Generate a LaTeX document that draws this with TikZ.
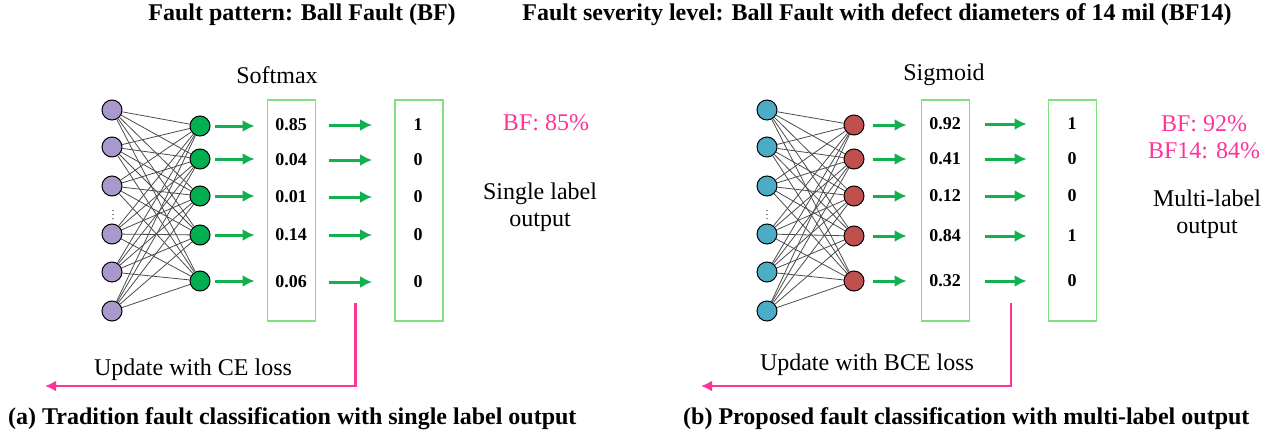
\documentclass[tikz,border=0pt]{standalone}
\usepackage{fontspec}
\setmainfont{Liberation Serif}
\usetikzlibrary{arrows.meta,calc}
\definecolor{purp}{HTML}{A898CC}
\definecolor{hgreen}{HTML}{00B050}
\definecolor{iblue}{HTML}{4BACC6}
\definecolor{hred}{HTML}{C0504D}
\definecolor{boxg}{HTML}{80E080}
\definecolor{agreen}{HTML}{12B04E}
\definecolor{pinkc}{HTML}{FF3399}
\tikzset{
  neuron/.style={circle, draw=black, line width=1pt, minimum size=20pt, inner sep=0pt},
  conn/.style={draw=black!70, line width=0.8pt},
  garrow/.style={draw=agreen, line width=3pt, -{Latex[length=12pt,width=12pt]}},
  valbox/.style={draw=boxg, line width=1.8pt, minimum width=48pt, minimum height=221pt, inner sep=0pt},
  val/.style={font=\fontsize{18}{18}\selectfont\bfseries, inner sep=1pt},
  lbl/.style={font=\fontsize{24}{27}\selectfont, align=center, inner sep=0pt},
  plbl/.style={lbl, text=pinkc},
  ploss/.style={draw=pinkc, line width=2.6pt, -{Latex[length=11pt,width=11pt]}},
  ttl/.style={font=\fontsize{24}{24}\selectfont\bfseries, inner sep=0pt},
  dotsn/.style={font=\fontsize{10}{10}\selectfont, inner sep=0pt}
}
\begin{document}
\begin{tikzpicture}[x=1pt,y=-1pt]
\useasboundingbox (0,0) rectangle (1272,439);

% titles
\node[ttl, anchor=base] (t1) at (302,20) {Fault pattern: Ball Fault (BF)};
\node[ttl, anchor=base] (t2) at (877,20) {Fault severity level: Ball Fault with defect diameters of 14 mil (BF14)};

%%%%%%%%%% LEFT PANEL
\foreach \y [count=\i] in {110,147,186,234,272,311}
  \node[neuron, fill=purp] (a\i) at (112,\y) {};
\node[dotsn] (adots) at (113,212) {$\vdots$};
\foreach \y [count=\j] in {126,159,196,235,281}
  \node[neuron, fill=hgreen] (ah\j) at (200,\y) {};
\foreach \i in {1,...,6}
  \foreach \j in {1,...,5}
    \draw[conn] (a\i) -- (ah\j);
\node[valbox] (ab1) at (291.5,210.5) {};
\node[valbox] (ab2) at (419,210.5) {};
\node[lbl] (asoft) at (277,75) {Softmax};
\foreach \v/\w/\y [count=\j] in {0.85/1/125,0.04/0/160,0.01/0/197,0.14/0/235,0.06/0/282}{
  \node[val] (av\j) at (291,\y) {\v};
  \node[val] (aw\j) at (418,\y) {\w};
  \draw[garrow] ($(ah\j.east)+(4,0)$) -- ($(ab1.west |- ah\j)+(-12,0)$);
  \draw[garrow] ($(ab1.east |- av\j)+(13,0)$) -- ($(ab2.west |- av\j)+(-22,0)$);
}
\node[plbl] (abf) at (546,123) {BF: 85\%};
\node[lbl] (asl) at (540,207) {Single label\\output};
\coordinate (ap1) at (355.5,303);
\coordinate (ap2) at (355.5,386);
\coordinate (ap3) at (45,386);
\draw[ploss] (ap1) -- (ap2) -- (ap3);
\node[lbl, anchor=base] (aupd) at (193,375) {Update with CE loss};
\node[ttl, anchor=base west] (acap) at (8,424) {(a) Tradition fault classification with single label output};

%%%%%%%%%% RIGHT PANEL
\foreach \y [count=\i] in {110,147,186,234,272,311}
  \node[neuron, fill=iblue] (b\i) at (767,\y) {};
\node[dotsn] (bdots) at (767,212) {$\vdots$};
\foreach \y [count=\j] in {125,159,196,236,281}
  \node[neuron, fill=hred] (bh\j) at (854,\y) {};
\foreach \i in {1,...,6}
  \foreach \j in {1,...,5}
    \draw[conn] (b\i) -- (bh\j);
\node[valbox] (bb1) at (945.5,210.5) {};
\node[valbox] (bb2) at (1072.5,210.5) {};
\node[lbl] (bsig) at (944,75) {Sigmoid};
\foreach \v/\w/\y [count=\j] in {0.92/1/124,0.41/0/159,0.12/0/196,0.84/1/236,0.32/0/281}{
  \node[val] (bv\j) at (945,\y) {\v};
  \node[val] (bw\j) at (1072,\y) {\w};
  \draw[garrow] ($(bh\j.east)+(8,0)$) -- ($(bb1.west |- bh\j)+(-14,0)$);
  \draw[garrow] ($(bb1.east |- bv\j)+(15,0)$) -- ($(bb2.west |- bv\j)+(-21,0)$);
}
\node[plbl] (bbf) at (1204,137) {BF: 92\%\\BF14: 84\%};
\node[lbl] (bml) at (1207,214) {Multi-label\\output};
\coordinate (bp1) at (1011,303);
\coordinate (bp2) at (1011,386);
\coordinate (bp3) at (701,386);
\draw[ploss] (bp1) -- (bp2) -- (bp3);
\node[lbl, anchor=base] (bupd) at (867,370) {Update with BCE loss};
\node[ttl, anchor=base west] (bcap) at (683,424) {(b) Proposed fault classification with multi-label output};
\end{tikzpicture}
\end{document}
